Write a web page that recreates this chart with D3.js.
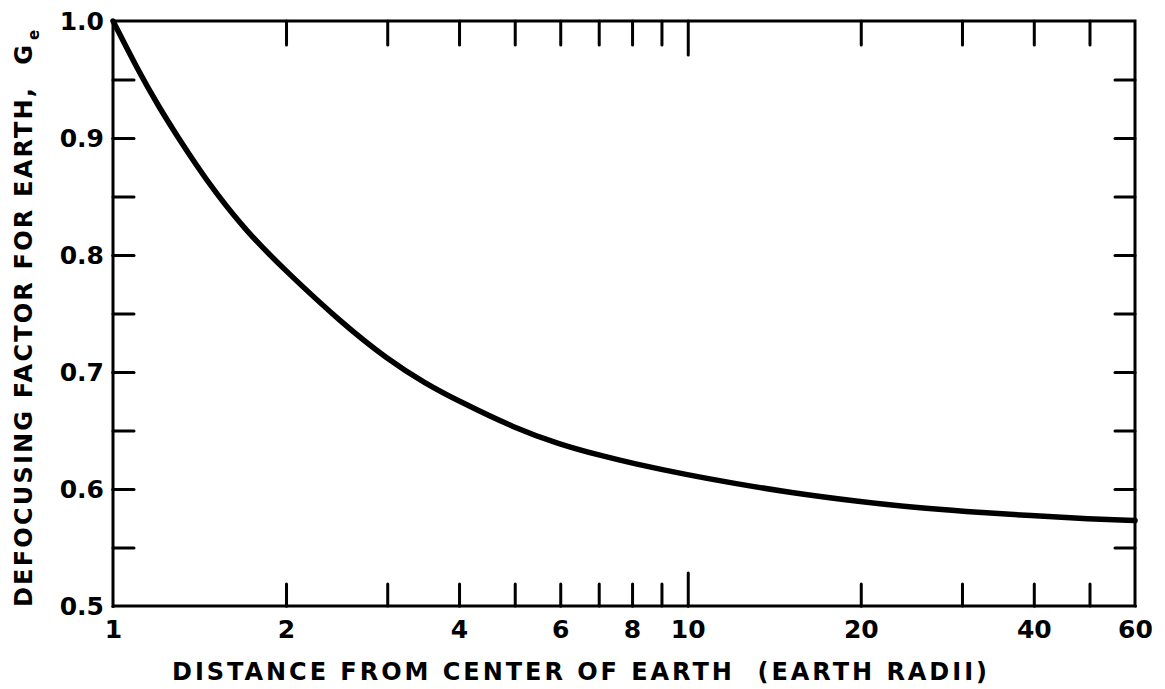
<!DOCTYPE html>
<html>
<head>
<meta charset="utf-8">
<script src="https://cdn.jsdelivr.net/npm/d3@7"></script>
<style>
  html, body { margin: 0; padding: 0; background: #fff; }
  svg { display: block; }
  text { font-family: "DejaVu Sans", sans-serif; font-weight: bold; fill: #000; }
</style>
</head>
<body>
<svg id="chart" width="1165" height="689"></svg>
<script>
// ---- data ----
const distance = [1, 1.1, 1.2, 1.3, 1.4, 1.5, 1.7, 2, 2.5, 3, 3.5, 4, 5, 6, 7, 8, 10, 12, 15, 20, 25, 30, 40, 50, 60];
const defocus  = [1.0, 0.960, 0.927, 0.900, 0.876, 0.855, 0.821, 0.786, 0.742, 0.711, 0.690, 0.675, 0.652, 0.638, 0.629, 0.622, 0.612, 0.605, 0.597, 0.589, 0.584, 0.581, 0.577, 0.5745, 0.5730];

const xMinorTicks = [2, 3, 4, 5, 6, 7, 8, 9, 20, 30, 40, 50];
const xMajorTicks = [10];
const xTickLabels = [1, 2, 4, 6, 8, 10, 20, 40, 60];
const yMinorTicks = [0.55, 0.6, 0.65, 0.7, 0.75, 0.8, 0.85, 0.9, 0.95];
const yTickLabels = [0.5, 0.6, 0.7, 0.8, 0.9, 1.0];

const xTitle = "DISTANCE FROM CENTER OF EARTH  (EARTH RADII)";
const yTitle = "DEFOCUSING FACTOR FOR EARTH,  G";
const yTitleSub = "e";

// ---- layout ----
const L = 113, R = 1135, T = 21, B = 606;
const svg = d3.select("#chart");

const x = d3.scaleLog().domain([1, 60]).range([L, R]);
const y = d3.scaleLinear().domain([0.5, 1.0]).range([B, T]);

function styleAxis(g) {
  g.select(".domain").remove();
  g.selectAll(".tick line").attr("stroke", "#000").attr("stroke-width", 3).attr("stroke-linecap", "round");
  g.selectAll(".tick text").style("font-family", "DejaVu Sans, sans-serif").style("font-weight", "bold").attr("fill", "#000");
}

// bottom ticks (inward)
svg.append("g").attr("transform", `translate(0,${B})`)
  .call(d3.axisBottom(x).tickValues(xMinorTicks).tickSizeInner(-22).tickSizeOuter(0).tickFormat(""))
  .call(styleAxis);
svg.append("g").attr("transform", `translate(0,${B})`)
  .call(d3.axisBottom(x).tickValues(xMajorTicks).tickSizeInner(-33).tickSizeOuter(0).tickFormat(""))
  .call(styleAxis);
// top ticks (inward)
svg.append("g").attr("transform", `translate(0,${T})`)
  .call(d3.axisTop(x).tickValues(xMinorTicks).tickSizeInner(-24).tickSizeOuter(0).tickFormat(""))
  .call(styleAxis);
svg.append("g").attr("transform", `translate(0,${T})`)
  .call(d3.axisTop(x).tickValues(xMajorTicks).tickSizeInner(-34).tickSizeOuter(0).tickFormat(""))
  .call(styleAxis);
// left ticks (inward)
svg.append("g").attr("transform", `translate(${L},0)`)
  .call(d3.axisLeft(y).tickValues(yMinorTicks).tickSizeInner(-21).tickSizeOuter(0).tickFormat(""))
  .call(styleAxis);
// right ticks (inward)
svg.append("g").attr("transform", `translate(${R},0)`)
  .call(d3.axisRight(y).tickValues(yMinorTicks).tickSizeInner(-20).tickSizeOuter(0).tickFormat(""))
  .call(styleAxis);

// x tick labels
const xl = svg.append("g").attr("transform", `translate(0,${B})`)
  .call(d3.axisBottom(x).tickValues(xTickLabels).tickSize(0).tickPadding(14).tickFormat(d3.format("d")))
  .call(styleAxis);
xl.selectAll(".tick text").attr("font-size", 25);

// y tick labels
const yl = svg.append("g").attr("transform", `translate(${L},0)`)
  .call(d3.axisLeft(y).tickValues(yTickLabels).tickSize(0).tickPadding(9).tickFormat(d3.format(".1f")))
  .call(styleAxis);
yl.selectAll(".tick text").attr("font-size", 25);

// frame
svg.append("rect").attr("x", L).attr("y", T).attr("width", R - L).attr("height", B - T)
  .attr("fill", "none").attr("stroke", "#000").attr("stroke-width", 3);

// curve
const line = d3.line()
  .x((d, i) => x(distance[i]))
  .y((d, i) => y(defocus[i]))
  .curve(d3.curveBasis);
svg.append("path").datum(defocus).attr("d", line)
  .attr("fill", "none").attr("stroke", "#000").attr("stroke-width", 5.5)
  .attr("stroke-linejoin", "round").attr("stroke-linecap", "round");

// axis titles
svg.append("text").attr("x", 172).attr("y", 680)
  .attr("font-size", 24).attr("textLength", 815).attr("lengthAdjust", "spacing")
  .style("white-space", "pre").text(xTitle);

svg.append("text").attr("transform", "translate(32,607) rotate(-90)")
  .attr("font-size", 24).attr("textLength", 562).attr("lengthAdjust", "spacing")
  .style("white-space", "pre").text(yTitle);
svg.append("text").attr("transform", "translate(39,40) rotate(-90)")
  .attr("font-size", 15).text(yTitleSub);
</script>
</body>
</html>
